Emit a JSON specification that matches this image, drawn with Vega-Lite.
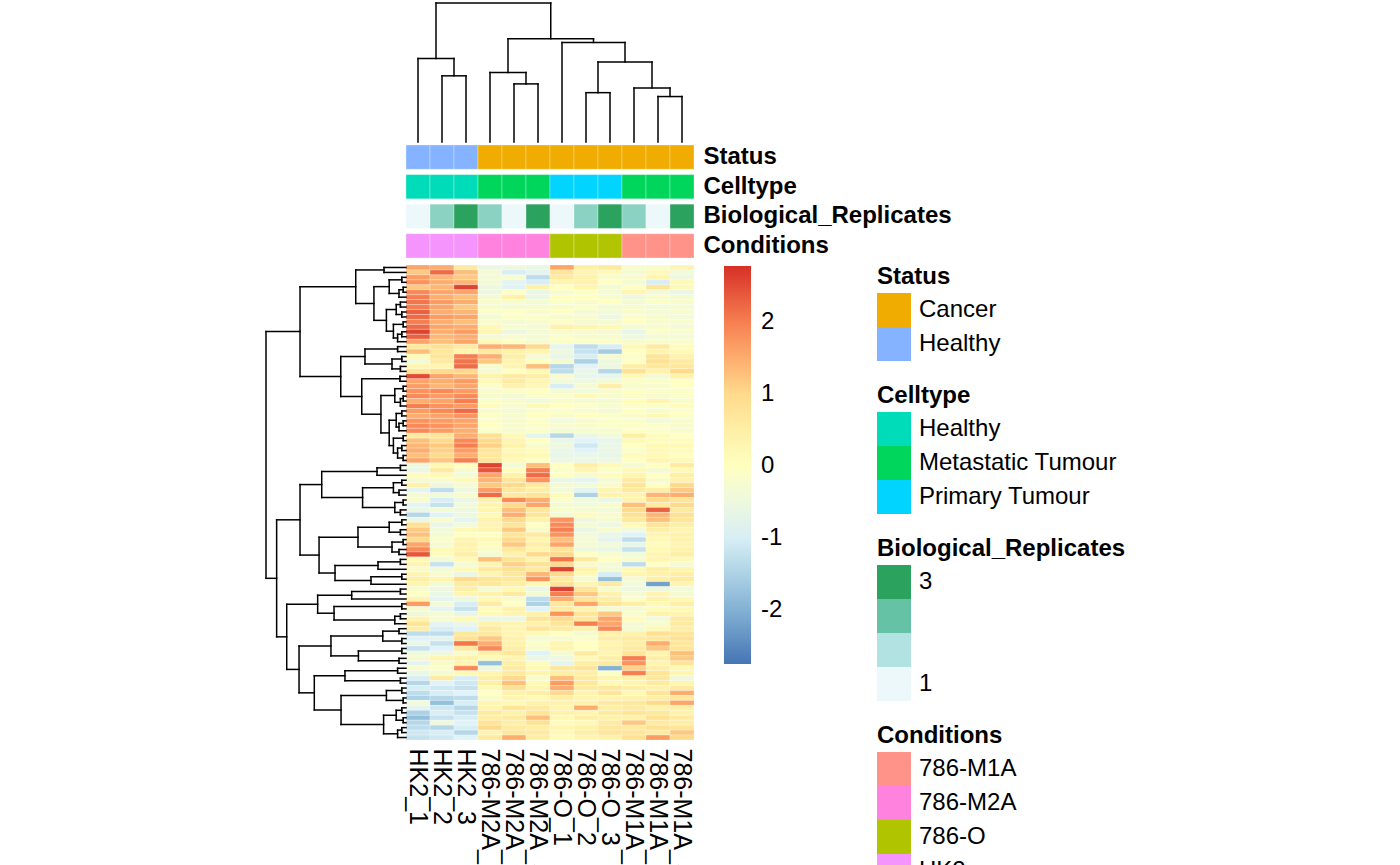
{
"$schema": "https://vega.github.io/schema/vega-lite/v6.json",
"width": 694, "height": 740,
"autosize": {"type": "none"},
"padding": {"left": 0, "top": 0, "right": 706, "bottom": 125},
"background": "white",
"config": {
  "view": {"stroke": null},
  "font": "Liberation Sans",
  "legend": {"orient": "none", "padding": 0, "rowPadding": 0, "labelFontSize": 24, "titleFontSize": 24, "labelColor": "black", "titleColor": "black", "labelLimit": 400, "titleLimit": 400, "symbolType": "square", "symbolSize": 1156, "symbolStrokeWidth": 0, "labelOffset": 8, "titlePadding": 4, "gradientLength": 398, "gradientThickness": 27, "gradientStrokeWidth": 0, "labelFont": "Liberation Sans", "titleFont": "Liberation Sans"}
},
"datasets": {
  "samples": [
    {"key":"a","sample":"HK2_1"},{"key":"b","sample":"HK2_2"},{"key":"c","sample":"HK2_3"},
    {"key":"d","sample":"786-M2A_2"},{"key":"e","sample":"786-M2A_1"},{"key":"f","sample":"786-M2A_3"},
    {"key":"g","sample":"786-O_1"},{"key":"h","sample":"786-O_2"},{"key":"i","sample":"786-O_3"},
    {"key":"j","sample":"786-M1A_2"},{"key":"k","sample":"786-M1A_1"},{"key":"l","sample":"786-M1A_3"}
  ],
  "anno": [
    {"sample":"HK2_1","Status":"Healthy","Celltype":"Healthy","rep":1,"Conditions":"HK2"},
    {"sample":"HK2_2","Status":"Healthy","Celltype":"Healthy","rep":2,"Conditions":"HK2"},
    {"sample":"HK2_3","Status":"Healthy","Celltype":"Healthy","rep":3,"Conditions":"HK2"},
    {"sample":"786-M2A_2","Status":"Cancer","Celltype":"Metastatic Tumour","rep":2,"Conditions":"786-M2A"},
    {"sample":"786-M2A_1","Status":"Cancer","Celltype":"Metastatic Tumour","rep":1,"Conditions":"786-M2A"},
    {"sample":"786-M2A_3","Status":"Cancer","Celltype":"Metastatic Tumour","rep":3,"Conditions":"786-M2A"},
    {"sample":"786-O_1","Status":"Cancer","Celltype":"Primary Tumour","rep":1,"Conditions":"786-O"},
    {"sample":"786-O_2","Status":"Cancer","Celltype":"Primary Tumour","rep":2,"Conditions":"786-O"},
    {"sample":"786-O_3","Status":"Cancer","Celltype":"Primary Tumour","rep":3,"Conditions":"786-O"},
    {"sample":"786-M1A_2","Status":"Cancer","Celltype":"Metastatic Tumour","rep":2,"Conditions":"786-M1A"},
    {"sample":"786-M1A_1","Status":"Cancer","Celltype":"Metastatic Tumour","rep":1,"Conditions":"786-M1A"},
    {"sample":"786-M1A_3","Status":"Cancer","Celltype":"Metastatic Tumour","rep":3,"Conditions":"786-M1A"}
  ],
  "coltree": [
    {"xa":1.5,"ha":0,"xb":2.5,"hb":0,"h":47.6},
    {"xa":0.5,"ha":0,"xb":2.0,"hb":47.6,"h":60.1},
    {"xa":4.5,"ha":0,"xb":5.5,"hb":0,"h":41.8},
    {"xa":3.5,"ha":0,"xb":5.0,"hb":41.8,"h":50.0},
    {"xa":10.5,"ha":0,"xb":11.5,"hb":0,"h":32.7},
    {"xa":9.5,"ha":0,"xb":11.0,"hb":32.7,"h":38.9},
    {"xa":7.5,"ha":0,"xb":8.5,"hb":0,"h":35.5},
    {"xa":8.0,"ha":35.5,"xb":10.25,"hb":38.9,"h":57.5},
    {"xa":6.5,"ha":0,"xb":9.125,"hb":57.5,"h":71.6},
    {"xa":4.25,"ha":50.0,"xb":7.8125,"hb":71.6,"h":74.3},
    {"xa":1.25,"ha":60.1,"xb":6.03125,"hb":74.3,"h":100}
  ],
  "rowtree": [
    {"ya":0.5,"ha":0,"yb":1.5,"hb":0,"h":15.7},
    {"ya":2.5,"ha":0,"yb":3.5,"hb":0,"h":3},
    {"ya":4.5,"ha":0,"yb":5.5,"hb":0,"h":2},
    {"ya":5.0,"ha":2,"yb":6.5,"hb":0,"h":5},
    {"ya":3.0,"ha":3,"yb":5.75,"hb":5,"h":12},
    {"ya":7.5,"ha":0,"yb":8.5,"hb":0,"h":4},
    {"ya":9.5,"ha":0,"yb":10.5,"hb":0,"h":3},
    {"ya":8.0,"ha":4,"yb":10.0,"hb":3,"h":7},
    {"ya":11.5,"ha":0,"yb":12.5,"hb":0,"h":2},
    {"ya":13.5,"ha":0,"yb":14.5,"hb":0,"h":3},
    {"ya":14.0,"ha":3,"yb":15.5,"hb":0,"h":6},
    {"ya":12.0,"ha":2,"yb":14.75,"hb":6,"h":9},
    {"ya":9.0,"ha":7,"yb":13.375,"hb":9,"h":14},
    {"ya":4.375,"ha":12,"yb":11.1875,"hb":14,"h":22.9},
    {"ya":1.0,"ha":15.7,"yb":7.78125,"hb":22.9,"h":35.9},
    {"ya":16.5,"ha":0,"yb":17.5,"hb":0,"h":6},
    {"ya":18.5,"ha":0,"yb":19.5,"hb":0,"h":3},
    {"ya":20.5,"ha":0,"yb":21.5,"hb":0,"h":4},
    {"ya":19.0,"ha":3,"yb":21.0,"hb":4,"h":10},
    {"ya":17.0,"ha":6,"yb":20.0,"hb":10,"h":29.3},
    {"ya":22.5,"ha":0,"yb":23.5,"hb":0,"h":4.3},
    {"ya":24.5,"ha":0,"yb":25.5,"hb":0,"h":2},
    {"ya":26.5,"ha":0,"yb":27.5,"hb":0,"h":2},
    {"ya":27.0,"ha":2,"yb":28.5,"hb":0,"h":4},
    {"ya":25.0,"ha":2,"yb":27.75,"hb":4,"h":8},
    {"ya":29.5,"ha":0,"yb":30.5,"hb":0,"h":3},
    {"ya":31.5,"ha":0,"yb":32.5,"hb":0,"h":2},
    {"ya":32.0,"ha":2,"yb":33.5,"hb":0,"h":5},
    {"ya":30.0,"ha":3,"yb":32.75,"hb":5,"h":7},
    {"ya":34.5,"ha":0,"yb":35.5,"hb":0,"h":2},
    {"ya":36.5,"ha":0,"yb":37.5,"hb":0,"h":3},
    {"ya":38.5,"ha":0,"yb":39.5,"hb":0,"h":2},
    {"ya":37.0,"ha":3,"yb":39.0,"hb":2,"h":6},
    {"ya":35.0,"ha":2,"yb":38.0,"hb":6,"h":9},
    {"ya":31.375,"ha":7,"yb":36.5,"hb":9,"h":12},
    {"ya":26.375,"ha":8,"yb":33.9375,"hb":12,"h":17.9},
    {"ya":23.0,"ha":4.3,"yb":30.15625,"hb":17.9,"h":31.6},
    {"ya":18.5,"ha":29.3,"yb":26.578125,"hb":31.6,"h":46.6},
    {"ya":4.390625,"ha":35.9,"yb":22.5390625,"hb":46.6,"h":75.7},
    {"ya":40.5,"ha":0,"yb":41.5,"hb":0,"h":4},
    {"ya":41.0,"ha":4,"yb":42.5,"hb":0,"h":20.7},
    {"ya":43.5,"ha":0,"yb":44.5,"hb":0,"h":3},
    {"ya":45.5,"ha":0,"yb":46.5,"hb":0,"h":5},
    {"ya":44.0,"ha":3,"yb":46.0,"hb":5,"h":9},
    {"ya":47.5,"ha":0,"yb":48.5,"hb":0,"h":2},
    {"ya":49.5,"ha":0,"yb":50.5,"hb":0,"h":4},
    {"ya":48.0,"ha":2,"yb":50.0,"hb":4,"h":8},
    {"ya":45.0,"ha":9,"yb":49.0,"hb":8,"h":31},
    {"ya":41.75,"ha":20.7,"yb":47.0,"hb":31,"h":60.2},
    {"ya":51.5,"ha":0,"yb":52.5,"hb":0,"h":3},
    {"ya":53.5,"ha":0,"yb":54.5,"hb":0,"h":4},
    {"ya":52.0,"ha":3,"yb":54.0,"hb":4,"h":12},
    {"ya":55.5,"ha":0,"yb":56.5,"hb":0,"h":2},
    {"ya":57.5,"ha":0,"yb":58.5,"hb":0,"h":5},
    {"ya":56.0,"ha":2,"yb":58.0,"hb":5,"h":10},
    {"ya":53.0,"ha":12,"yb":57.0,"hb":10,"h":34.3},
    {"ya":59.5,"ha":0,"yb":60.5,"hb":0,"h":4},
    {"ya":60.0,"ha":4,"yb":61.5,"hb":0,"h":20},
    {"ya":62.5,"ha":0,"yb":63.5,"hb":0,"h":3},
    {"ya":63.0,"ha":3,"yb":64.5,"hb":0,"h":25},
    {"ya":60.75,"ha":20,"yb":63.75,"hb":25,"h":50.7},
    {"ya":55.0,"ha":34.3,"yb":62.25,"hb":50.7,"h":62.1},
    {"ya":44.375,"ha":60.2,"yb":58.625,"hb":62.1,"h":75.7},
    {"ya":65.5,"ha":0,"yb":66.5,"hb":0,"h":4},
    {"ya":66.0,"ha":4,"yb":67.5,"hb":0,"h":38.8},
    {"ya":68.5,"ha":0,"yb":69.5,"hb":0,"h":3},
    {"ya":70.5,"ha":0,"yb":71.5,"hb":0,"h":4},
    {"ya":71.0,"ha":4,"yb":72.5,"hb":0,"h":8},
    {"ya":69.0,"ha":3,"yb":71.75,"hb":8,"h":51.4},
    {"ya":66.75,"ha":38.8,"yb":70.375,"hb":51.4,"h":63.1},
    {"ya":73.5,"ha":0,"yb":74.5,"hb":0,"h":5},
    {"ya":75.5,"ha":0,"yb":76.5,"hb":0,"h":3},
    {"ya":74.0,"ha":5,"yb":76.0,"hb":3,"h":16.6},
    {"ya":77.5,"ha":0,"yb":78.5,"hb":0,"h":3},
    {"ya":79.5,"ha":0,"yb":80.5,"hb":0,"h":5},
    {"ya":78.0,"ha":3,"yb":80.0,"hb":5,"h":34},
    {"ya":75.0,"ha":16.6,"yb":79.0,"hb":34,"h":53.6},
    {"ya":81.5,"ha":0,"yb":82.5,"hb":0,"h":6},
    {"ya":83.5,"ha":0,"yb":84.5,"hb":0,"h":4},
    {"ya":82.0,"ha":6,"yb":84.0,"hb":4,"h":43.6},
    {"ya":85.5,"ha":0,"yb":86.5,"hb":0,"h":3},
    {"ya":87.5,"ha":0,"yb":88.5,"hb":0,"h":2},
    {"ya":86.0,"ha":3,"yb":88.0,"hb":2,"h":14},
    {"ya":89.5,"ha":0,"yb":90.5,"hb":0,"h":3},
    {"ya":91.5,"ha":0,"yb":92.5,"hb":0,"h":2},
    {"ya":90.0,"ha":3,"yb":92.0,"hb":2,"h":7},
    {"ya":93.5,"ha":0,"yb":94.5,"hb":0,"h":3},
    {"ya":94.0,"ha":3,"yb":95.5,"hb":0,"h":6},
    {"ya":91.0,"ha":7,"yb":94.75,"hb":6,"h":16},
    {"ya":87.0,"ha":14,"yb":92.875,"hb":16,"h":46.4},
    {"ya":83.0,"ha":43.6,"yb":89.9375,"hb":46.4,"h":65.5},
    {"ya":77.0,"ha":53.6,"yb":86.46875,"hb":65.5,"h":76.4},
    {"ya":68.5625,"ha":63.1,"yb":81.734375,"hb":76.4,"h":85.2},
    {"ya":51.5,"ha":75.7,"yb":75.1484,"hb":85.2,"h":92.4},
    {"ya":13.4648,"ha":75.7,"yb":63.3242,"hb":92.4,"h":100}
  ],
  "expr": [
    {"r":0,"a":1.6,"b":1.5,"c":0.6,"d":-0.6,"e":-0.5,"f":-0.6,"g":1.6,"h":0.5,"i":0.6,"j":-0.2,"k":-0.2,"l":0.3},
    {"r":1,"a":1.2,"b":2.2,"c":1.3,"d":-0.3,"e":-1.0,"f":-0.8,"g":0.8,"h":0.3,"i":0.2,"j":-0.3,"k":0.2,"l":-0.4},
    {"r":2,"a":1.7,"b":1.4,"c":1.2,"d":-0.4,"e":-0.2,"f":-1.3,"g":0.6,"h":0.4,"i":-0.2,"j":-0.2,"k":0.3,"l":-0.5},
    {"r":3,"a":1.8,"b":1.5,"c":1.4,"d":-0.3,"e":-0.8,"f":-1.0,"g":0.3,"h":0.4,"i":0.0,"j":-0.3,"k":-1.0,"l":0.2},
    {"r":4,"a":1.2,"b":1.4,"c":2.6,"d":-0.5,"e":-0.9,"f":0.4,"g":0.0,"h":0.3,"i":-0.3,"j":0.0,"k":0.8,"l":0.2},
    {"r":5,"a":1.9,"b":1.6,"c":1.6,"d":-0.5,"e":0.0,"f":-0.6,"g":-0.2,"h":0.0,"i":-0.3,"j":0.3,"k":-0.3,"l":-0.6},
    {"r":6,"a":2.0,"b":1.5,"c":1.3,"d":-0.3,"e":0.4,"f":-0.6,"g":0.0,"h":0.0,"i":-0.2,"j":-0.5,"k":-0.2,"l":-0.3},
    {"r":7,"a":2.1,"b":1.7,"c":1.5,"d":-0.2,"e":-0.2,"f":-0.3,"g":-0.1,"h":-0.2,"i":0.0,"j":-0.3,"k":-0.1,"l":-0.2},
    {"r":8,"a":2.0,"b":1.6,"c":1.2,"d":-0.2,"e":-0.3,"f":-0.2,"g":-0.2,"h":-0.1,"i":-0.3,"j":-0.2,"k":-0.4,"l":-0.3},
    {"r":9,"a":2.3,"b":1.5,"c":1.4,"d":-0.1,"e":0.0,"f":-0.2,"g":0.0,"h":-0.3,"i":-0.4,"j":-0.2,"k":-0.3,"l":-0.2},
    {"r":10,"a":2.2,"b":1.7,"c":1.6,"d":-0.3,"e":-0.1,"f":-0.1,"g":-0.2,"h":-0.2,"i":-0.5,"j":-0.1,"k":-0.2,"l":-0.4},
    {"r":11,"a":2.0,"b":1.5,"c":1.3,"d":-0.2,"e":-0.3,"f":-0.2,"g":-0.1,"h":-0.3,"i":-0.3,"j":0.0,"k":-0.2,"l":-0.2},
    {"r":12,"a":2.2,"b":1.6,"c":1.5,"d":0.2,"e":-0.2,"f":-0.3,"g":0.4,"h":0.3,"i":0.2,"j":-0.3,"k":-0.2,"l":-0.3},
    {"r":13,"a":2.6,"b":1.5,"c":1.7,"d":0.3,"e":-0.6,"f":-0.3,"g":-0.2,"h":-0.2,"i":-0.3,"j":-0.7,"k":-0.1,"l":-0.2},
    {"r":14,"a":2.3,"b":1.4,"c":1.5,"d":-0.3,"e":-0.2,"f":-0.3,"g":-0.1,"h":-0.2,"i":-0.2,"j":-0.5,"k":-0.3,"l":-0.3},
    {"r":15,"a":1.6,"b":1.3,"c":1.6,"d":0.2,"e":-0.1,"f":-0.3,"g":-0.1,"h":-0.1,"i":-0.1,"j":-0.2,"k":-0.2,"l":-0.2},
    {"r":16,"a":0.7,"b":0.9,"c":0.6,"d":1.5,"e":1.4,"f":1.0,"g":-0.7,"h":-1.3,"i":-1.0,"j":0.2,"k":0.6,"l":0.1},
    {"r":17,"a":1.3,"b":0.7,"c":0.3,"d":0.6,"e":0.4,"f":0.3,"g":-0.5,"h":-1.2,"i":-1.6,"j":0.0,"k":0.3,"l":0.2},
    {"r":18,"a":0.2,"b":0.8,"c":2.0,"d":1.5,"e":0.5,"f":-0.3,"g":-0.6,"h":-1.0,"i":-0.3,"j":-0.1,"k":0.8,"l":0.4},
    {"r":19,"a":-0.4,"b":0.6,"c":2.1,"d":1.2,"e":0.3,"f":0.0,"g":-0.3,"h":-1.5,"i":-0.5,"j":0.0,"k":0.9,"l":0.6},
    {"r":20,"a":0.3,"b":0.3,"c":2.2,"d":-0.2,"e":0.3,"f":1.3,"g":-1.4,"h":-0.9,"i":-0.5,"j":0.5,"k":0.7,"l":0.7},
    {"r":21,"a":0.8,"b":1.0,"c":1.0,"d":-0.3,"e":0.0,"f":0.2,"g":-1.3,"h":-0.6,"i":-1.4,"j":0.9,"k":0.4,"l":1.0},
    {"r":22,"a":2.5,"b":1.6,"c":1.4,"d":0.4,"e":0.6,"f":0.5,"g":-0.2,"h":-0.7,"i":-0.7,"j":0.2,"k":-0.3,"l":0.4},
    {"r":23,"a":1.6,"b":1.5,"c":1.7,"d":0.2,"e":0.6,"f":0.3,"g":-0.4,"h":-0.5,"i":-0.3,"j":-0.1,"k":-0.1,"l":0.0},
    {"r":24,"a":1.7,"b":1.4,"c":1.6,"d":-0.1,"e":0.4,"f":0.2,"g":-1.0,"h":-0.3,"i":0.5,"j":-0.2,"k":-0.2,"l":0.0},
    {"r":25,"a":1.8,"b":1.9,"c":1.7,"d":-0.2,"e":-0.1,"f":0.0,"g":-0.3,"h":-0.4,"i":-0.2,"j":0.0,"k":-0.1,"l":-0.1},
    {"r":26,"a":1.9,"b":1.7,"c":1.9,"d":-0.2,"e":-0.3,"f":-0.1,"g":-0.1,"h":0.2,"i":-0.2,"j":-0.1,"k":-0.2,"l":-0.1},
    {"r":27,"a":1.5,"b":1.6,"c":2.0,"d":-0.1,"e":-0.2,"f":-0.4,"g":-0.2,"h":-0.3,"i":-0.3,"j":0.1,"k":0.3,"l":-0.2},
    {"r":28,"a":2.0,"b":1.8,"c":1.7,"d":0.1,"e":-0.2,"f":0.2,"g":0.0,"h":-0.1,"i":-0.2,"j":-0.1,"k":-0.1,"l":0.1},
    {"r":29,"a":1.7,"b":1.9,"c":2.2,"d":-0.2,"e":-0.3,"f":-0.1,"g":-0.1,"h":-0.2,"i":-0.3,"j":0.0,"k":-0.2,"l":-0.1},
    {"r":30,"a":1.5,"b":1.6,"c":1.8,"d":-0.1,"e":-0.2,"f":0.0,"g":-0.2,"h":0.0,"i":-0.1,"j":-0.2,"k":0.2,"l":-0.1},
    {"r":31,"a":1.8,"b":1.7,"c":1.6,"d":-0.1,"e":-0.2,"f":-0.1,"g":-0.4,"h":-0.2,"i":-0.1,"j":-0.1,"k":-0.4,"l":-0.2},
    {"r":32,"a":1.9,"b":1.8,"c":1.6,"d":0.0,"e":-0.2,"f":-0.1,"g":-0.2,"h":-0.2,"i":-0.1,"j":-0.1,"k":-0.1,"l":-0.2},
    {"r":33,"a":1.9,"b":1.7,"c":1.5,"d":-0.1,"e":-0.2,"f":-0.1,"g":-0.3,"h":-0.2,"i":-0.2,"j":0.0,"k":-0.1,"l":-0.2},
    {"r":34,"a":0.6,"b":0.8,"c":1.5,"d":0.9,"e":0.2,"f":-0.8,"g":-1.4,"h":-0.6,"i":-0.4,"j":0.5,"k":0.1,"l":0.0},
    {"r":35,"a":1.3,"b":1.0,"c":1.9,"d":1.0,"e":0.3,"f":0.0,"g":-0.6,"h":-0.9,"i":-0.7,"j":0.2,"k":0.1,"l":0.1},
    {"r":36,"a":1.4,"b":1.2,"c":2.0,"d":1.1,"e":0.4,"f":-0.2,"g":-0.5,"h":-1.1,"i":-0.6,"j":0.0,"k":0.2,"l":0.2},
    {"r":37,"a":1.5,"b":1.1,"c":1.7,"d":0.8,"e":0.2,"f":0.1,"g":-0.6,"h":-0.9,"i":-0.6,"j":-0.1,"k":0.2,"l":0.1},
    {"r":38,"a":1.3,"b":1.0,"c":1.5,"d":0.7,"e":0.3,"f":0.2,"g":-0.7,"h":-0.6,"i":-0.7,"j":0.1,"k":0.2,"l":0.0},
    {"r":39,"a":1.6,"b":1.2,"c":2.0,"d":0.8,"e":0.2,"f":0.0,"g":-0.5,"h":-0.6,"i":-0.5,"j":0.0,"k":0.3,"l":0.2},
    {"r":40,"a":-0.5,"b":0.2,"c":0.0,"d":2.6,"e":-0.4,"f":1.3,"g":0.0,"h":0.5,"i":0.2,"j":-0.3,"k":0.0,"l":0.6},
    {"r":41,"a":-0.6,"b":0.6,"c":-0.2,"d":2.4,"e":0.1,"f":2.0,"g":-0.1,"h":0.3,"i":-0.1,"j":0.2,"k":-0.3,"l":0.2},
    {"r":42,"a":0.1,"b":0.2,"c":-0.4,"d":1.6,"e":0.4,"f":2.2,"g":0.0,"h":-0.3,"i":0.1,"j":0.3,"k":0.0,"l":0.5},
    {"r":43,"a":-0.3,"b":-0.2,"c":0.2,"d":1.4,"e":0.8,"f":1.8,"g":-0.6,"h":-0.8,"i":-0.3,"j":0.6,"k":-0.2,"l":0.4},
    {"r":44,"a":0.4,"b":-0.5,"c":-0.3,"d":1.2,"e":1.0,"f":0.6,"g":-0.3,"h":-0.4,"i":-0.2,"j":0.8,"k":0.0,"l":1.0},
    {"r":45,"a":-0.8,"b":-1.3,"c":-0.5,"d":1.7,"e":0.7,"f":0.5,"g":-0.4,"h":-0.8,"i":0.3,"j":0.6,"k":0.5,"l":1.2},
    {"r":46,"a":-0.3,"b":-0.4,"c":-0.2,"d":2.2,"e":0.6,"f":0.8,"g":0.1,"h":-1.5,"i":0.4,"j":0.3,"k":1.4,"l":1.5},
    {"r":47,"a":-0.2,"b":-1.0,"c":-0.6,"d":0.4,"e":1.9,"f":1.5,"g":-0.1,"h":-0.4,"i":-0.6,"j":0.3,"k":1.0,"l":0.8},
    {"r":48,"a":-0.8,"b":-1.2,"c":-0.4,"d":0.3,"e":1.0,"f":1.6,"g":-0.3,"h":-0.4,"i":-0.2,"j":1.3,"k":0.6,"l":1.0},
    {"r":49,"a":-0.6,"b":-0.3,"c":-0.5,"d":0.3,"e":1.3,"f":0.7,"g":-0.2,"h":-0.3,"i":-0.4,"j":1.0,"k":2.3,"l":0.6},
    {"r":50,"a":-1.4,"b":-0.9,"c":-0.5,"d":0.2,"e":1.5,"f":0.8,"g":-0.3,"h":0.1,"i":-0.2,"j":0.9,"k":1.4,"l":0.9},
    {"r":51,"a":-0.6,"b":-0.2,"c":-0.8,"d":0.4,"e":1.0,"f":0.4,"g":1.8,"h":-0.5,"i":-0.3,"j":0.7,"k":1.3,"l":0.8},
    {"r":52,"a":0.9,"b":-0.6,"c":-0.4,"d":0.3,"e":0.8,"f":0.0,"g":1.9,"h":-0.3,"i":-0.5,"j":0.2,"k":0.8,"l":0.5},
    {"r":53,"a":1.2,"b":-0.4,"c":0.2,"d":0.3,"e":1.2,"f":-0.2,"g":2.0,"h":-0.6,"i":-0.2,"j":-0.4,"k":0.5,"l":0.3},
    {"r":54,"a":1.3,"b":-0.3,"c":0.0,"d":0.0,"e":0.8,"f":0.6,"g":1.8,"h":-0.4,"i":-0.6,"j":-0.9,"k":0.3,"l":0.4},
    {"r":55,"a":1.0,"b":-0.1,"c":0.3,"d":0.2,"e":1.0,"f":0.3,"g":1.3,"h":-0.3,"i":-0.8,"j":-1.3,"k":0.2,"l":0.4},
    {"r":56,"a":1.6,"b":-0.3,"c":0.4,"d":0.1,"e":1.2,"f":0.5,"g":1.6,"h":-0.3,"i":-0.4,"j":-0.7,"k":0.1,"l":0.3},
    {"r":57,"a":1.9,"b":0.2,"c":0.3,"d":-0.2,"e":0.7,"f":0.3,"g":0.8,"h":-0.5,"i":-0.6,"j":-1.2,"k":0.2,"l":0.4},
    {"r":58,"a":2.4,"b":0.1,"c":0.5,"d":-0.3,"e":0.4,"f":1.0,"g":1.0,"h":0.0,"i":-0.2,"j":-0.4,"k":0.3,"l":0.5},
    {"r":59,"a":0.2,"b":-0.4,"c":0.2,"d":1.3,"e":0.8,"f":0.3,"g":2.1,"h":0.6,"i":0.0,"j":-0.2,"k":0.3,"l":0.2},
    {"r":60,"a":0.3,"b":-1.2,"c":-0.3,"d":0.3,"e":1.1,"f":0.9,"g":1.0,"h":-0.2,"i":-0.3,"j":-1.3,"k":0.0,"l":-0.3},
    {"r":61,"a":-0.2,"b":-0.4,"c":0.2,"d":0.6,"e":0.9,"f":0.6,"g":2.6,"h":0.4,"i":-0.3,"j":0.2,"k":0.5,"l":0.3},
    {"r":62,"a":0.3,"b":-0.2,"c":-0.6,"d":0.3,"e":0.7,"f":1.4,"g":1.0,"h":0.2,"i":-1.0,"j":0.3,"k":0.4,"l":0.5},
    {"r":63,"a":0.5,"b":0.3,"c":1.0,"d":0.8,"e":0.7,"f":1.8,"g":0.6,"h":-0.3,"i":-1.8,"j":-0.3,"k":0.5,"l":0.6},
    {"r":64,"a":0.3,"b":-0.3,"c":0.6,"d":0.7,"e":0.5,"f":0.2,"g":0.8,"h":0.3,"i":0.6,"j":-0.4,"k":-2.2,"l":0.3},
    {"r":65,"a":-0.2,"b":-0.5,"c":0.5,"d":-0.3,"e":0.2,"f":-0.6,"g":2.6,"h":0.8,"i":-0.2,"j":-0.5,"k":-0.5,"l":-0.4},
    {"r":66,"a":0.0,"b":-0.6,"c":0.3,"d":0.4,"e":0.6,"f":-0.3,"g":2.0,"h":1.2,"i":0.4,"j":-0.3,"k":0.3,"l":-0.3},
    {"r":67,"a":0.3,"b":-0.8,"c":-0.5,"d":0.2,"e":-0.2,"f":-1.3,"g":1.5,"h":0.8,"i":0.5,"j":-0.1,"k":0.4,"l":0.2},
    {"r":68,"a":1.7,"b":-0.3,"c":-1.0,"d":0.6,"e":0.0,"f":-1.5,"g":0.7,"h":1.6,"i":0.8,"j":0.5,"k":0.2,"l":0.5},
    {"r":69,"a":-0.2,"b":-0.8,"c":-1.2,"d":0.1,"e":0.4,"f":-0.9,"g":0.6,"h":0.3,"i":-0.3,"j":-0.3,"k":0.1,"l":0.2},
    {"r":70,"a":-0.5,"b":-0.3,"c":-0.7,"d":0.2,"e":0.3,"f":0.4,"g":1.8,"h":0.8,"i":1.2,"j":-0.2,"k":0.4,"l":0.3},
    {"r":71,"a":0.3,"b":-0.2,"c":0.2,"d":-0.6,"e":-0.6,"f":0.8,"g":1.0,"h":0.7,"i":1.6,"j":0.1,"k":-0.4,"l":0.6},
    {"r":72,"a":0.8,"b":-0.8,"c":-0.6,"d":0.4,"e":0.3,"f":0.4,"g":0.8,"h":2.0,"i":1.6,"j":-0.3,"k":-0.2,"l":0.6},
    {"r":73,"a":0.5,"b":-1.0,"c":-0.9,"d":0.6,"e":0.3,"f":0.8,"g":0.6,"h":0.4,"i":1.9,"j":-0.3,"k":0.2,"l":0.5},
    {"r":74,"a":-1.3,"b":-1.3,"c":0.7,"d":0.6,"e":0.3,"f":0.2,"g":0.0,"h":-0.3,"i":0.4,"j":0.4,"k":0.9,"l":0.8},
    {"r":75,"a":-0.9,"b":-0.8,"c":0.9,"d":1.2,"e":0.4,"f":-0.3,"g":-0.2,"h":-0.1,"i":0.5,"j":0.6,"k":0.7,"l":0.9},
    {"r":76,"a":-0.6,"b":-1.2,"c":2.1,"d":1.5,"e":0.4,"f":-0.1,"g":0.3,"h":0.0,"i":0.3,"j":0.5,"k":1.5,"l":0.7},
    {"r":77,"a":-1.2,"b":-0.9,"c":0.6,"d":1.9,"e":0.5,"f":-0.2,"g":0.3,"h":0.0,"i":0.4,"j":0.6,"k":1.2,"l":0.8},
    {"r":78,"a":-0.4,"b":-0.5,"c":-0.2,"d":0.4,"e":0.7,"f":-0.9,"g":-0.3,"h":0.6,"i":0.3,"j":0.8,"k":0.3,"l":1.3},
    {"r":79,"a":-0.3,"b":0.3,"c":0.4,"d":0.2,"e":0.3,"f":-0.6,"g":-0.5,"h":0.2,"i":0.5,"j":2.0,"k":0.5,"l":1.2},
    {"r":80,"a":-0.8,"b":-0.2,"c":0.3,"d":-1.8,"e":0.5,"f":0.1,"g":-0.8,"h":0.5,"i":0.6,"j":1.8,"k":0.3,"l":0.8},
    {"r":81,"a":-0.2,"b":-0.1,"c":1.9,"d":-0.5,"e":0.6,"f":0.2,"g":0.7,"h":0.8,"i":-2.0,"j":1.1,"k":0.5,"l":0.2},
    {"r":82,"a":-0.6,"b":-0.3,"c":0.2,"d":0.3,"e":0.6,"f":0.3,"g":0.5,"h":0.5,"i":-0.1,"j":2.0,"k":0.8,"l":0.3},
    {"r":83,"a":-1.0,"b":0.6,"c":-1.0,"d":0.5,"e":1.0,"f":-0.2,"g":1.3,"h":0.6,"i":0.3,"j":0.4,"k":0.7,"l":-0.5},
    {"r":84,"a":-1.4,"b":-0.9,"c":-1.1,"d":0.5,"e":1.3,"f":0.2,"g":1.7,"h":0.7,"i":0.2,"j":0.3,"k":0.6,"l":0.3},
    {"r":85,"a":-1.0,"b":-1.1,"c":-1.2,"d":0.2,"e":0.9,"f":0.3,"g":1.5,"h":0.6,"i":0.7,"j":0.5,"k":0.4,"l":0.6},
    {"r":86,"a":-1.3,"b":-1.0,"c":-0.9,"d":0.0,"e":0.4,"f":0.5,"g":1.0,"h":0.3,"i":0.8,"j":0.2,"k":0.8,"l":1.5},
    {"r":87,"a":-1.5,"b":-1.4,"c":-1.3,"d":-0.2,"e":0.3,"f":0.2,"g":0.5,"h":0.3,"i":0.3,"j":0.4,"k":0.5,"l":0.7},
    {"r":88,"a":-0.4,"b":-1.8,"c":-1.0,"d":0.3,"e":0.2,"f":0.4,"g":0.4,"h":0.4,"i":0.6,"j":0.7,"k":1.0,"l":1.6},
    {"r":89,"a":-0.8,"b":-1.1,"c":-1.4,"d":0.3,"e":0.8,"f":0.6,"g":0.3,"h":1.5,"i":0.5,"j":0.6,"k":0.4,"l":0.5},
    {"r":90,"a":-1.5,"b":-1.0,"c":-1.2,"d":0.6,"e":0.4,"f":0.8,"g":0.4,"h":0.3,"i":0.6,"j":0.8,"k":0.7,"l":0.4},
    {"r":91,"a":-1.8,"b":-1.2,"c":-1.0,"d":0.5,"e":0.6,"f":1.3,"g":0.2,"h":0.5,"i":0.4,"j":0.4,"k":0.9,"l":0.6},
    {"r":92,"a":-1.4,"b":-0.5,"c":-0.9,"d":0.8,"e":0.5,"f":0.9,"g":0.1,"h":0.2,"i":0.6,"j":1.2,"k":0.6,"l":0.5},
    {"r":93,"a":-1.3,"b":-1.4,"c":-1.0,"d":1.0,"e":0.6,"f":0.5,"g":0.3,"h":0.4,"i":0.7,"j":0.6,"k":0.9,"l":0.8},
    {"r":94,"a":-1.1,"b":-1.0,"c":-1.4,"d":0.3,"e":0.7,"f":0.6,"g":0.2,"h":0.5,"i":0.8,"j":0.8,"k":0.6,"l":1.2},
    {"r":95,"a":-1.2,"b":-1.1,"c":-0.9,"d":0.6,"e":1.5,"f":0.5,"g":0.1,"h":0.3,"i":0.4,"j":0.9,"k":1.7,"l":1.0}
  ]
},
"layer": [
  {
    "data": {"name": "expr"},
    "transform": [
      {"fold": ["a","b","c","d","e","f","g","h","i","j","k","l"], "as": ["key","value"]},
      {"lookup": "key", "from": {"data": {"name": "samples"}, "key": "key", "fields": ["sample"]}}
    ],
    "mark": {"type": "rect", "stroke": "white", "strokeWidth": 0.5, "strokeOpacity": 0.5},
    "encoding": {
      "x": {"field": "sample", "type": "nominal",
        "scale": {"domain": ["HK2_1","HK2_2","HK2_3","786-M2A_2","786-M2A_1","786-M2A_3","786-O_1","786-O_2","786-O_3","786-M1A_2","786-M1A_1","786-M1A_3"], "range": [406, 694], "paddingInner": 0, "paddingOuter": 0},
        "axis": {"orient": "bottom", "title": null, "ticks": false, "domain": false, "grid": false, "labelAngle": 90, "labelAlign": "left", "labelBaseline": "middle", "labelPadding": 8, "labelFontSize": 25, "labelColor": "black", "labelOverlap": false, "labelFont": "Liberation Sans", "labelLimit": 400}},
      "y": {"field": "r", "type": "ordinal", "scale": {"range": [265, 740], "paddingInner": 0, "paddingOuter": 0}, "axis": null},
      "color": {"field": "value", "type": "quantitative",
        "scale": {"domain": [-2.75, 2.78], "range": ["#4575B4","#91BFDB","#E0F3F8","#FFFFBF","#FEE090","#FC8D59","#D73027"], "interpolate": "rgb", "nice": false, "zero": false},
        "legend": {"title": null, "legendX": 724, "legendY": 266, "direction": "vertical", "values": [-2,-1,0,1,2], "labelOffset": 10, "labelExpr": "datum.value < 0 ? '-' + abs(datum.value) : '' + datum.value"}}
    }
  },
  {
    "data": {"name": "anno"},
    "mark": {"type": "rect", "stroke": "white", "strokeWidth": 0.6, "strokeOpacity": 0.5},
    "encoding": {
      "x": {"field": "sample", "type": "nominal", "scale": {"domain": ["HK2_1","HK2_2","HK2_3","786-M2A_2","786-M2A_1","786-M2A_3","786-O_1","786-O_2","786-O_3","786-M1A_2","786-M1A_1","786-M1A_3"], "range": [406, 694], "paddingInner": 0, "paddingOuter": 0}, "axis": null},
      "y": {"datum": "Status", "type": "nominal", "scale": {"domain": ["Status","Celltype","Biological_Replicates","Conditions"], "range": [145, 258], "paddingInner": 0.18, "paddingOuter": 0},
        "axis": {"orient": "right", "title": null, "ticks": false, "domain": false, "grid": false, "labelPadding": 9, "labelFontSize": 24, "labelFontWeight": "bold", "labelColor": "black", "labelOverlap": false, "labelFont": "Liberation Sans", "labelLimit": 400, "labelBaseline": "middle"}},
      "color": {"field": "Status", "type": "nominal", "scale": {"domain": ["Cancer","Healthy"], "range": ["#F0AC00","#85B3FF"]},
        "legend": {"title": "Status", "legendX": 877, "legendY": 265}}
    }
  },
  {
    "data": {"name": "anno"},
    "mark": {"type": "rect", "stroke": "white", "strokeWidth": 0.6, "strokeOpacity": 0.5},
    "encoding": {
      "x": {"field": "sample", "type": "nominal", "scale": {"domain": ["HK2_1","HK2_2","HK2_3","786-M2A_2","786-M2A_1","786-M2A_3","786-O_1","786-O_2","786-O_3","786-M1A_2","786-M1A_1","786-M1A_3"], "range": [406, 694], "paddingInner": 0, "paddingOuter": 0}, "axis": null},
      "y": {"datum": "Celltype", "type": "nominal", "scale": {"domain": ["Status","Celltype","Biological_Replicates","Conditions"], "range": [145, 258], "paddingInner": 0.18, "paddingOuter": 0}, "axis": null},
      "color": {"field": "Celltype", "type": "nominal", "scale": {"domain": ["Healthy","Metastatic Tumour","Primary Tumour"], "range": ["#00DCBA","#00D65C","#00D4FF"]},
        "legend": {"title": "Celltype", "legendX": 877, "legendY": 384}}
    }
  },
  {
    "data": {"name": "anno"},
    "mark": {"type": "rect", "stroke": "white", "strokeWidth": 0.6, "strokeOpacity": 0.5},
    "encoding": {
      "x": {"field": "sample", "type": "nominal", "scale": {"domain": ["HK2_1","HK2_2","HK2_3","786-M2A_2","786-M2A_1","786-M2A_3","786-O_1","786-O_2","786-O_3","786-M1A_2","786-M1A_1","786-M1A_3"], "range": [406, 694], "paddingInner": 0, "paddingOuter": 0}, "axis": null},
      "y": {"datum": "Biological_Replicates", "type": "nominal", "scale": {"domain": ["Status","Celltype","Biological_Replicates","Conditions"], "range": [145, 258], "paddingInner": 0.18, "paddingOuter": 0}, "axis": null},
      "color": {"field": "rep", "type": "quantitative", "scale": {"domain": [1, 3], "range": ["#EDF8FB","#B2E2E2","#66C2A4","#2CA25F"], "interpolate": "rgb", "nice": false, "zero": false},
        "legend": {"type": "symbol", "title": "Biological_Replicates", "legendX": 877, "legendY": 537, "values": [3, 2.3333333, 1.6666667, 1], "labelExpr": "datum.value == 3 ? '3' : (datum.value == 1 ? '1' : '')"}}
    }
  },
  {
    "data": {"name": "anno"},
    "mark": {"type": "rect", "stroke": "white", "strokeWidth": 0.6, "strokeOpacity": 0.5},
    "encoding": {
      "x": {"field": "sample", "type": "nominal", "scale": {"domain": ["HK2_1","HK2_2","HK2_3","786-M2A_2","786-M2A_1","786-M2A_3","786-O_1","786-O_2","786-O_3","786-M1A_2","786-M1A_1","786-M1A_3"], "range": [406, 694], "paddingInner": 0, "paddingOuter": 0}, "axis": null},
      "y": {"datum": "Conditions", "type": "nominal", "scale": {"domain": ["Status","Celltype","Biological_Replicates","Conditions"], "range": [145, 258], "paddingInner": 0.18, "paddingOuter": 0}, "axis": null},
      "color": {"field": "Conditions", "type": "nominal", "scale": {"domain": ["786-M1A","786-M2A","786-O","HK2"], "range": ["#FF9289","#FF82DF","#B0C400","#F494FC"]},
        "legend": {"title": "Conditions", "legendX": 877, "legendY": 724}}
    }
  },
  {
    "data": {"name": "coltree"},
    "mark": {"type": "rule", "color": "black", "strokeWidth": 1.5, "strokeCap": "square"},
    "encoding": {
      "x": {"field": "xa", "type": "quantitative", "scale": {"domain": [0, 12], "range": [406, 694], "nice": false, "zero": false}, "axis": null},
      "x2": {"field": "xb"},
      "y": {"field": "h", "type": "quantitative", "scale": {"domain": [0, 100], "range": [142, 3], "nice": false, "zero": false}, "axis": null}
    }
  },
  {
    "data": {"name": "coltree"},
    "mark": {"type": "rule", "color": "black", "strokeWidth": 1.5, "strokeCap": "square"},
    "encoding": {
      "x": {"field": "xa", "type": "quantitative", "scale": {"domain": [0, 12], "range": [406, 694], "nice": false, "zero": false}, "axis": null},
      "y": {"field": "ha", "type": "quantitative", "scale": {"domain": [0, 100], "range": [142, 3], "nice": false, "zero": false}, "axis": null},
      "y2": {"field": "h"}
    }
  },
  {
    "data": {"name": "coltree"},
    "mark": {"type": "rule", "color": "black", "strokeWidth": 1.5, "strokeCap": "square"},
    "encoding": {
      "x": {"field": "xb", "type": "quantitative", "scale": {"domain": [0, 12], "range": [406, 694], "nice": false, "zero": false}, "axis": null},
      "y": {"field": "hb", "type": "quantitative", "scale": {"domain": [0, 100], "range": [142, 3], "nice": false, "zero": false}, "axis": null},
      "y2": {"field": "h"}
    }
  },
  {
    "data": {"name": "rowtree"},
    "mark": {"type": "rule", "color": "black", "strokeWidth": 1.5, "strokeCap": "square"},
    "encoding": {
      "x": {"field": "h", "type": "quantitative", "scale": {"domain": [0, 100], "range": [406, 266], "nice": false, "zero": false}, "axis": null},
      "y": {"field": "ya", "type": "quantitative", "scale": {"domain": [0, 96], "range": [265, 740], "nice": false, "zero": false}, "axis": null},
      "y2": {"field": "yb"}
    }
  },
  {
    "data": {"name": "rowtree"},
    "mark": {"type": "rule", "color": "black", "strokeWidth": 1.5, "strokeCap": "square"},
    "encoding": {
      "x": {"field": "ha", "type": "quantitative", "scale": {"domain": [0, 100], "range": [406, 266], "nice": false, "zero": false}, "axis": null},
      "x2": {"field": "h"},
      "y": {"field": "ya", "type": "quantitative", "scale": {"domain": [0, 96], "range": [265, 740], "nice": false, "zero": false}, "axis": null}
    }
  },
  {
    "data": {"name": "rowtree"},
    "mark": {"type": "rule", "color": "black", "strokeWidth": 1.5, "strokeCap": "square"},
    "encoding": {
      "x": {"field": "hb", "type": "quantitative", "scale": {"domain": [0, 100], "range": [406, 266], "nice": false, "zero": false}, "axis": null},
      "x2": {"field": "h"},
      "y": {"field": "yb", "type": "quantitative", "scale": {"domain": [0, 96], "range": [265, 740], "nice": false, "zero": false}, "axis": null}
    }
  }
],
"resolve": {"scale": {"x": "independent", "y": "independent", "color": "independent"}}
}
